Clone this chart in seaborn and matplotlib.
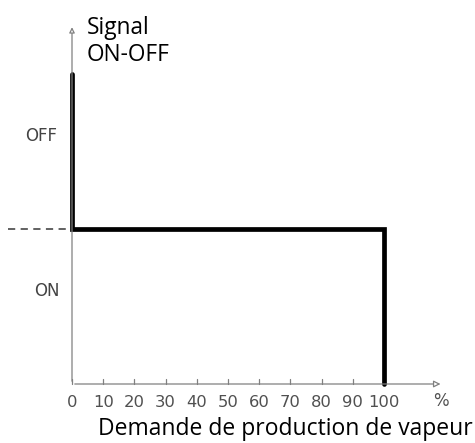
import matplotlib
matplotlib.use("Agg")
import matplotlib.pyplot as plt
import seaborn as sns

# signal path (demand %, signal level: 2 = OFF top, 1 = switch level, 0 = axis)
demand = [0, 0, 100, 100]
signal = [2, 1, 1, 0]
x_ticks = [0, 10, 20, 30, 40, 50, 60, 70, 80, 90, 100]
level_labels = ["OFF", "ON"]
level_pos = [1.6, 0.6]

sns.set_style("white")
plt.rcParams['font.family'] = ['Open Sans', 'DejaVu Sans']

fig = plt.figure(figsize=(4.75, 4.43), dpi=100)
ax = fig.add_axes([0, 0, 1, 1])
ax.set_axis_off()
# pixel mapping: x=0 at 72px, 3.12 px per unit; y=0 at 384px, 155 px per unit
ax.set_xlim(-72 / 3.12, (475 - 72) / 3.12)
ax.set_ylim((384 - 443) / 155, 384 / 155)

axis_col = "#808080"
small = ["DejaVu Sans"]
# x axis with arrow
ax.annotate("", xy=(119, 0), xytext=(0, 0),
            arrowprops=dict(arrowstyle="-|>", color=axis_col, lw=0.9,
                            mutation_scale=10, fc="white"))
# y axis with arrow
ax.annotate("", xy=(0, 2.32), xytext=(0, 0),
            arrowprops=dict(arrowstyle="-|>", color=axis_col, lw=0.9,
                            mutation_scale=8, fc="white"))

# ticks and tick labels
for t in x_ticks:
    ax.plot([t, t], [0, 0.03], color=axis_col, lw=0.9)
    ax.text(t, -0.12, str(t), ha="center", va="center", fontsize=11.8,
            color="#505050", family=small)
ax.text(118.3, -0.11, "%", ha="center", va="center", fontsize=12,
        color="#505050", family=small)

for lab, pos, xp in zip(level_labels, level_pos, [-9.8, -8.2]):
    ax.text(xp, pos, lab, ha="center", va="center", fontsize=12,
            color="#444444", family=small)

# dashed reference at switching level
ax.plot([-20.5, 0], [1, 1], color="#555555", lw=1.3, ls=(0, (4, 3)))

# signal line
sns.lineplot(x=demand, y=signal, sort=False, estimator=None, color="black",
             linewidth=3.4, ax=ax, solid_joinstyle="miter")

ax.text(4.8, 2.21, "Signal\nON-OFF", ha="left", va="center", fontsize=16.3,
        color="black", linespacing=1.2)
ax.text(68.3, -0.29, "Demande de production de vapeur", ha="center",
        va="center", fontsize=16.5, color="black")

fig.savefig("out.png", dpi=100)
